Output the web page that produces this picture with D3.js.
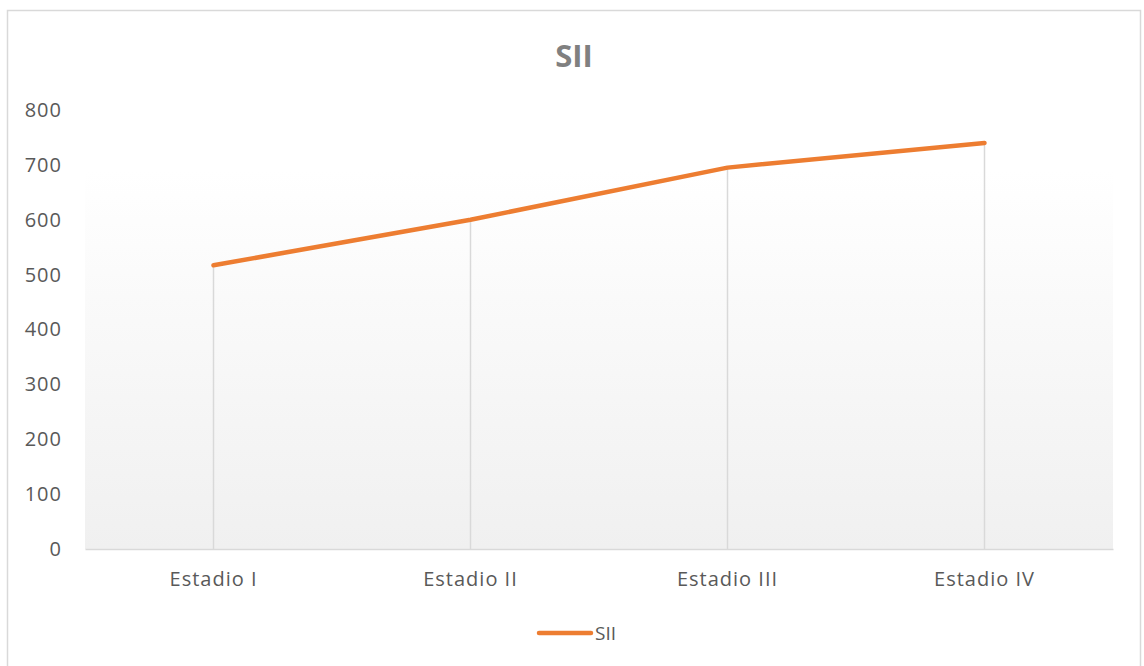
<!DOCTYPE html>
<html>
<head>
<meta charset="utf-8">
<script src="https://cdn.jsdelivr.net/npm/d3@7"></script>
<style>
  body { margin: 0; background: #fff; }
  text { font-family: "Open Sans", "Noto Sans", sans-serif; }
</style>
</head>
<body>
<svg id="chart" width="1144" height="666"></svg>
<script>
var categories = ["Estadio I", "Estadio II", "Estadio III", "Estadio IV"];
var values = [517, 600, 695, 740];
var yTicks = [0, 100, 200, 300, 400, 500, 600, 700, 800];
var seriesName = "SII";

var svg = d3.select("#chart"),
    width = +svg.attr("width"),
    height = +svg.attr("height");

var margin = {left: 85, right: 31, top: 110, bottom: 117};
var x = d3.scaleBand().domain(categories).range([margin.left, width - margin.right]);
var y = d3.scaleLinear().domain([0, 800]).range([height - margin.bottom, margin.top]);

// outer chart border
svg.append("rect")
    .attr("x", 7.5).attr("y", 10.5)
    .attr("width", 1133).attr("height", 670)
    .attr("fill", "#fff")
    .attr("stroke", "#d9d9d9")
    .attr("stroke-width", 1.5);

var defs = svg.append("defs");
var grad = defs.append("linearGradient")
    .attr("id", "bg").attr("x1", 0).attr("y1", 0).attr("x2", 0).attr("y2", 1);
grad.append("stop").attr("offset", "0%").attr("stop-color", "#ffffff");
grad.append("stop").attr("offset", "100%").attr("stop-color", "#f0f0f0");

svg.append("rect")
    .attr("x", margin.left)
    .attr("y", y(690))
    .attr("width", width - margin.right - margin.left)
    .attr("height", y(0) - y(690))
    .attr("fill", "url(#bg)");

// title
svg.append("text")
    .attr("x", 574).attr("y", 67)
    .attr("text-anchor", "middle")
    .attr("font-size", 31)
    .attr("font-weight", "bold")
    .attr("fill", "#808080")
    .text(seriesName);

// y axis labels
var yAxis = svg.append("g")
    .attr("transform", "translate(" + margin.left + ",0)")
    .call(d3.axisLeft(y).tickValues(yTicks).tickSize(0).tickPadding(23));
yAxis.select(".domain").remove();
yAxis.selectAll("text")
    .attr("font-size", 20)
    .attr("letter-spacing", 1)
    .attr("fill", "#595959")
    .style("font-family", "'Open Sans', sans-serif");

// drop lines
svg.append("g").selectAll("line")
    .data(values)
    .enter().append("line")
    .attr("x1", function(d, i) { return x(categories[i]) + x.bandwidth() / 2; })
    .attr("x2", function(d, i) { return x(categories[i]) + x.bandwidth() / 2; })
    .attr("y1", function(d) { return y(d); })
    .attr("y2", y(0))
    .attr("stroke", "#d9d9d9")
    .attr("stroke-width", 1.5);

// x axis
var xAxis = svg.append("g")
    .attr("transform", "translate(0," + y(0) + ")")
    .call(d3.axisBottom(x).tickSize(0).tickPadding(23));
xAxis.select(".domain")
    .attr("stroke", "#d9d9d9")
    .attr("stroke-width", 1.5);
xAxis.selectAll("text")
    .attr("font-size", 20)
    .attr("letter-spacing", 1)
    .attr("fill", "#595959")
    .style("font-family", "'Open Sans', sans-serif");

// series line
var line = d3.line()
    .x(function(d, i) { return x(categories[i]) + x.bandwidth() / 2; })
    .y(function(d) { return y(d); });

svg.append("path")
    .datum(values)
    .attr("d", line)
    .attr("fill", "none")
    .attr("stroke", "#ed7d31")
    .attr("stroke-width", 4.5)
    .attr("stroke-linecap", "round")
    .attr("stroke-linejoin", "round");

// legend
var legend = svg.append("g").attr("transform", "translate(539,633)");
legend.append("line")
    .attr("x1", 0).attr("x2", 52)
    .attr("stroke", "#ed7d31")
    .attr("stroke-width", 4.5)
    .attr("stroke-linecap", "round");
legend.append("text")
    .attr("x", 56).attr("y", 7)
    .attr("font-size", 19)
    .attr("fill", "#595959")
    .text(seriesName);
</script>
</body>
</html>
